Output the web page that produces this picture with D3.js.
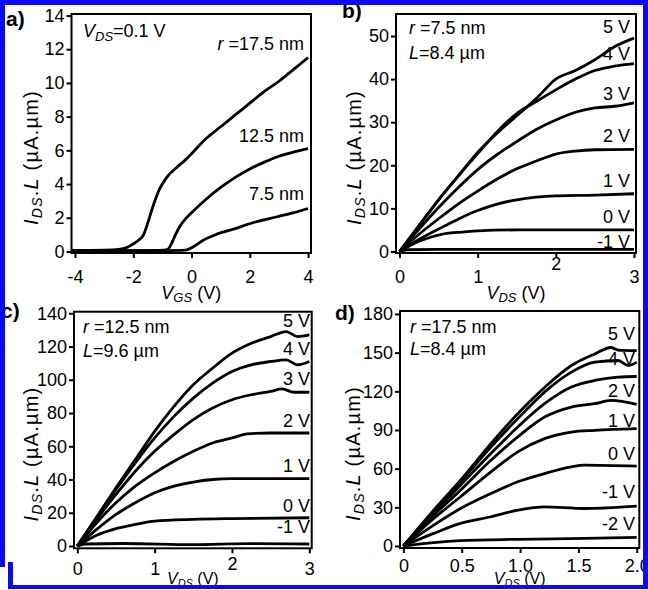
<!DOCTYPE html>
<html>
<head>
<meta charset="utf-8">
<script src="https://cdn.jsdelivr.net/npm/d3@7"></script>
<style>
  body { margin: 0; background: #fff; }
  svg text { font-family: "Liberation Sans", Arial, sans-serif; fill: #000; }
</style>
</head>
<body>
<script>
// panel a: transfer curves, VDS = 0.1 V  [VGS, IDS.L]
let a175 = [[-4.1,0.06],[-3,0.08],[-2.5,0.12],[-2.2,0.25],[-2.0,0.45],[-1.8,0.7],[-1.66,0.95],[-1.5,1.7],[-1.3,2.8],[-1.1,3.7],[-0.85,4.4],[-0.5,5.0],[-0.2,5.45],[0,5.8],[0.5,6.7],[1.0,7.4],[1.5,8.1],[2.0,8.8],[2.5,9.5],[3.0,10.1],[3.5,10.8],[4,11.5]]
let a125 = [[-4.1,0.04],[-2,0.05],[-0.95,0.08],[-0.8,0.15],[-0.68,0.5],[-0.55,1.0],[-0.4,1.5],[-0.2,1.95],[0,2.3],[0.5,3.1],[1.0,3.8],[1.5,4.4],[2.0,4.9],[2.5,5.3],[3.0,5.65],[3.5,5.9],[4,6.1]]
let a75 = [[-4.1,0.03],[-1,0.05],[-0.2,0.08],[0.06,0.28],[0.4,0.67],[0.87,1.03],[1.44,1.33],[2.13,1.72],[2.94,2.06],[3.51,2.3],[4,2.55]]
let aCurveLabels = ['r =17.5 nm', '12.5 nm', '7.5 nm']

// panel b: r = 7.5 nm, L = 8.4 um  [VDS, IDS.L]
let bM1 = [[0,0],[0.1,0.4],[0.5,0.5],[1.5,0.5],[3,0.5]]
let b0 = [[0,0],[0.2,2],[0.4,3.3],[0.6,4.2],[0.8,4.5],[1.0,4.8],[1.5,5.0],[3,5.0]]
let b1 = [[0,0],[0.25,2.8],[0.5,5.2],[0.75,7.5],[1.0,9.5],[1.25,11],[1.5,12],[1.75,12.6],[2.0,12.9],[2.5,13.1],[3,13.4]]
let b2 = [[0,0],[0.25,4],[0.5,7.6],[0.75,11],[1.0,14],[1.25,16.8],[1.5,19.2],[1.75,21],[2,22.6],[2.25,23.3],[2.5,23.6],[3,23.7]]
let b3 = [[0,0],[0.25,5.2],[0.5,10.2],[0.75,14.8],[1.0,19],[1.25,22.5],[1.5,25.5],[1.75,28.3],[2.0,30.5],[2.25,32.3],[2.5,33.3],[2.75,33.7],[3,34.5]]
let b4 = [[0,0],[0.25,6],[0.5,12],[0.75,17.5],[1.0,22.7],[1.25,27.8],[1.5,32],[1.75,34.8],[2.0,37.5],[2.25,40],[2.5,42],[2.75,43],[3,43.6]]
let b5 = [[0,0],[0.25,6],[0.5,12],[0.75,17.5],[1.0,23],[1.25,27.5],[1.5,31.5],[1.75,35.5],[2.0,40],[2.25,42],[2.5,44.5],[2.75,47.5],[3,49.5]]
let bVgs = ['5 V', '4 V', '3 V', '2 V', '1 V', '0 V', '-1 V']

// panel c: r = 12.5 nm, L = 9.6 um
let cM1 = [[0,0],[0.1,1.2],[0.6,1.5],[1.5,0.8],[2.2,1.4],[3,1.2]]
let c0 = [[0,0],[0.25,6.5],[0.5,10.5],[0.75,13],[1.0,15],[1.5,16],[2,16.5],[3,17]]
let c1 = [[0,0],[0.25,10],[0.5,19],[0.75,26],[1.0,32],[1.25,36],[1.5,38.5],[1.75,40],[2.0,40.5],[3,40.5]]
let c2 = [[0,0],[0.25,14],[0.5,26],[0.75,36],[1.0,44],[1.25,51],[1.5,57],[1.75,62],[2,65],[2.2,67.5],[2.5,68],[3,68]]
let c3 = [[0,0],[0.25,16],[0.5,31],[0.75,45],[1.0,57],[1.25,67],[1.5,76],[1.75,83],[2,88],[2.25,91],[2.5,93],[2.65,94.5],[2.8,92.5],[3,92.5]]
let c4 = [[0,0],[0.25,17],[0.5,34],[0.75,50],[1.0,65],[1.25,78],[1.5,89],[1.75,98],[2,105],[2.25,109],[2.5,111],[2.7,112],[2.85,109],[3,111]]
let c5 = [[0,0],[0.25,17.5],[0.5,35],[0.75,52],[1.0,69],[1.25,84],[1.5,97],[1.75,107],[2.0,116],[2.25,122],[2.5,126],[2.7,129],[2.85,126],[3,127]]
let cVgs = ['5 V', '4 V', '3 V', '2 V', '1 V', '0 V', '-1 V']

// panel d: r = 17.5 nm, L = 8.4 um
let dA = [[0,0],[0.26,27.8],[0.49,51],[0.75,79.4],[0.98,102.6],[1.21,123],[1.44,140],[1.64,149],[1.78,154],[1.84,152],[2,151.6]]
let dB = [[0,0],[0.26,26.6],[0.49,49.8],[0.75,76.8],[0.98,98.8],[1.21,119.4],[1.44,134.9],[1.64,142.6],[1.84,143.9],[1.93,140],[2,142.6]]
let dC = [[0,0],[0.26,25.3],[0.49,47.2],[0.75,71.7],[0.98,92.3],[1.21,110.4],[1.44,123.3],[1.64,128.4],[1.84,131],[2,131.5]]
let dD = [[0,0],[0.26,24],[0.49,43.3],[0.75,66.5],[0.98,84.6],[1.21,100],[1.44,107.8],[1.64,110.4],[1.78,112.9],[2,109.9]]
let dE = [[0,0],[0.26,21.4],[0.49,38.2],[0.75,57.5],[0.98,73],[1.21,83.3],[1.44,88.4],[1.64,89.7],[2,91]]
let dF = [[0,0],[0.26,16.2],[0.49,29.1],[0.75,40.7],[0.98,49.8],[1.21,56.2],[1.44,61.4],[1.55,62.7],[2,61.9]]
let dG = [[0,0],[0.26,9.8],[0.49,17.5],[0.75,22.7],[0.98,27.8],[1.21,30.4],[1.55,29.1],[2,30.9]]
let dH = [[0,0],[0.26,2.6],[0.49,4.1],[0.98,5.2],[1.55,5.9],[2,6.7]]
let dVgs = ['5 V', '4 V', '2 V', '1 V', '0 V', '-1 V', '-2 V']

const svg = d3.select('body').append('svg')
  .attr('width', 648)
  .attr('height', 590)

const yLabel = sel => {
  sel.append('tspan').attr('font-style', 'italic').text('I')
  sel.append('tspan').attr('font-style', 'italic').attr('font-size', '14px').attr('dy', 4).text('DS')
  sel.append('tspan').attr('dy', -4).text('.')
  sel.append('tspan').attr('font-style', 'italic').text('L')
  sel.append('tspan').text(' (\u00b5A.\u00b5m)')
}
const xLabel = (sel, sub, size) => {
  sel.append('tspan').attr('font-style', 'italic').text('V')
  sel.append('tspan').attr('font-style', 'italic').attr('font-size', (size - 5) + 'px').attr('dy', 3).text(sub)
  sel.append('tspan').attr('dy', -3).text(' (V)')
}

let panels = [
  { tag: 'a)', tagPos: [6, 26], box: [71.5, 14, 311, 253], xd: [-4.12, 4.1], yd: [-0.09, 14.09],
    xt: [-4, -2, 0, 2, 4], yt: d3.range(0, 15, 2), xfmt: d => d, xpad: 12, shift: {},
    xlabSub: 'GS', xlabY: 299, xlabSize: 18, ylabX: 38,
    curves: [a175, a125, a75], labels: aCurveLabels, labPos: [[304, 50], [304, 142], [304, 200]],
    notes: [] },
  { tag: 'b)', tagPos: [342, 18], box: [396, 14, 636, 253], xd: [-0.045, 3.026], yd: [-0.35, 55.1],
    xt: [0, 1, 2, 3], yt: d3.range(0, 51, 10), xfmt: d => d, xpad: 12, shift: { 2: -13 },
    xlabSub: 'DS', xlabY: 299, xlabSize: 18, ylabX: 361,
    curves: [b5, b4, b3, b2, b1, b0, bM1], labels: bVgs,
    labPos: [[630, 33], [630, 60], [630, 100], [630, 142], [630, 187], [630, 223], [630, 248]],
    notes: [['r', ' =7.5 nm', 409, 34], ['L', '=8.4 \u00b5m', 409, 59]] },
  { tag: 'c)', tagPos: [1, 318], box: [74, 311.7, 311.7, 548.3], xd: [-0.043, 3.031], yd: [-1.38, 140.96],
    xt: [0, 1, 2, 3], yt: d3.range(0, 141, 20), xfmt: d => d, xpad: 9, shift: { 2: -5 },
    xlabSub: 'DS', xlabY: 584, xlabSize: 16, ylabX: 38,
    curves: [c5, c4, c3, c2, c1, c0, cM1], labels: cVgs,
    labPos: [[310, 327], [310, 355], [310, 385], [310, 427], [310, 472], [310, 512], [310, 533]],
    notes: [['r', ' =12.5 nm', 83, 333], ['L', '=9.6 \u00b5m', 83, 357]] },
  { tag: 'd)', tagPos: [335, 320], box: [400, 311, 639.3, 548], xd: [-0.029, 2.022], yd: [-1.55, 182.3],
    xt: [0, 0.5, 1, 1.5, 2], yt: d3.range(0, 181, 30), xfmt: d => d === 0 ? '0' : d3.format('.1f')(d),
    xpad: 6, shift: {}, xlabSub: 'DS', xlabY: 584, xlabSize: 16, ylabX: 360,
    curves: [dA, dB, dC, dD, dE, dF, dG, dH], labels: dVgs,
    labPos: [[635, 340], [635, 365], [635, 397], [635, 427], [635, 460], [635, 498], [635, 530]],
    notes: [['r', ' =17.5 nm', 410, 333], ['L', '=8.4 \u00b5m', 410, 355]] }
]

panels.forEach(p => {
  let [x0, y0, x1, y1] = p.box
  let x = d3.scaleLinear().domain(p.xd).range([x0, x1])
  let y = d3.scaleLinear().domain(p.yd).range([y1, y0])
  let g = svg.append('g')

  g.append('g')
    .attr('transform', `translate(0,${y1})`)
    .call(d3.axisBottom(x).tickValues(p.xt).tickSize(5).tickPadding(p.xpad).tickFormat(p.xfmt))
    .call(ax => ax.select('.domain').remove())
    .call(ax => ax.selectAll('line').attr('stroke-width', 2))
    .call(ax => ax.selectAll('text').attr('font-size', '18px').attr('fill', '#000')
      .attr('y', d => 5 + p.xpad + (p.shift[d] || 0)))

  g.append('g')
    .attr('transform', `translate(${x0},0)`)
    .call(d3.axisLeft(y).tickValues(p.yt).tickSize(5).tickPadding(2))
    .call(ax => ax.select('.domain').remove())
    .call(ax => ax.selectAll('line').attr('stroke-width', 2))
    .call(ax => ax.selectAll('text').attr('font-size', '18px').attr('fill', '#000'))

  let line = d3.line().x(d => x(d[0])).y(d => y(d[1])).curve(d3.curveMonotoneX)
  g.selectAll('path.curve')
    .data(p.curves)
    .enter()
    .append('path')
    .attr('class', 'curve')
    .attr('d', line)
    .attr('fill', 'none')
    .attr('stroke', '#000')
    .attr('stroke-width', 2.8)
    .attr('stroke-linejoin', 'round')

  g.append('rect')
    .attr('x', x0).attr('y', y0)
    .attr('width', x1 - x0).attr('height', y1 - y0)
    .attr('fill', 'none').attr('stroke', '#000').attr('stroke-width', 2)

  g.selectAll('text.lab')
    .data(p.labels)
    .enter()
    .append('text')
    .attr('class', 'lab')
    .attr('x', (d, i) => p.labPos[i][0])
    .attr('y', (d, i) => p.labPos[i][1])
    .attr('text-anchor', 'end')
    .attr('font-size', '18px')
    .each(function (d) {
      let t = d3.select(this)
      if (d.startsWith('r ')) {
        t.append('tspan').attr('font-style', 'italic').text('r')
        t.append('tspan').text(d.slice(1))
      } else t.text(d)
    })

  p.notes.forEach(n => {
    let t = g.append('text').attr('x', n[2]).attr('y', n[3]).attr('font-size', '18px')
    t.append('tspan').attr('font-style', 'italic').text(n[0])
    t.append('tspan').text(n[1])
  })

  g.append('text')
    .attr('x', p.tagPos[0]).attr('y', p.tagPos[1])
    .attr('font-size', '21px').attr('font-weight', 'bold')
    .text(p.tag)

  g.append('text')
    .attr('x', (x0 + x1) / 2).attr('y', p.xlabY)
    .attr('text-anchor', 'middle').attr('font-size', p.xlabSize + 'px')
    .call(xLabel, p.xlabSub, p.xlabSize)

  g.append('text')
    .attr('transform', `translate(${p.ylabX},${(y0 + y1) / 2 + 24}) rotate(-90)`)
    .attr('text-anchor', 'middle').attr('font-size', '20px')
    .attr('letter-spacing', '1.2px')
    .call(yLabel)
})

// note in panel a
let vn = svg.append('text').attr('x', 83).attr('y', 37).attr('font-size', '18px')
vn.append('tspan').attr('font-style', 'italic').text('V')
vn.append('tspan').attr('font-style', 'italic').attr('font-size', '13px').attr('dy', 4).text('DS')
vn.append('tspan').attr('dy', -4).text('=0.1 V')

// blue selection frame
let blue = '#0a0af5'
svg.append('rect').attr('x', 0).attr('y', 0).attr('width', 648).attr('height', 5).attr('fill', blue)
svg.append('rect').attr('x', 0).attr('y', 0).attr('width', 5).attr('height', 567).attr('fill', blue)
svg.append('rect').attr('x', 8).attr('y', 562).attr('width', 5).attr('height', 27).attr('fill', blue)
svg.append('rect').attr('x', 8).attr('y', 585).attr('width', 640).attr('height', 4).attr('fill', blue)
svg.append('rect').attr('x', 643).attr('y', 0).attr('width', 5).attr('height', 589).attr('fill', blue)
</script>
</body>
</html>
